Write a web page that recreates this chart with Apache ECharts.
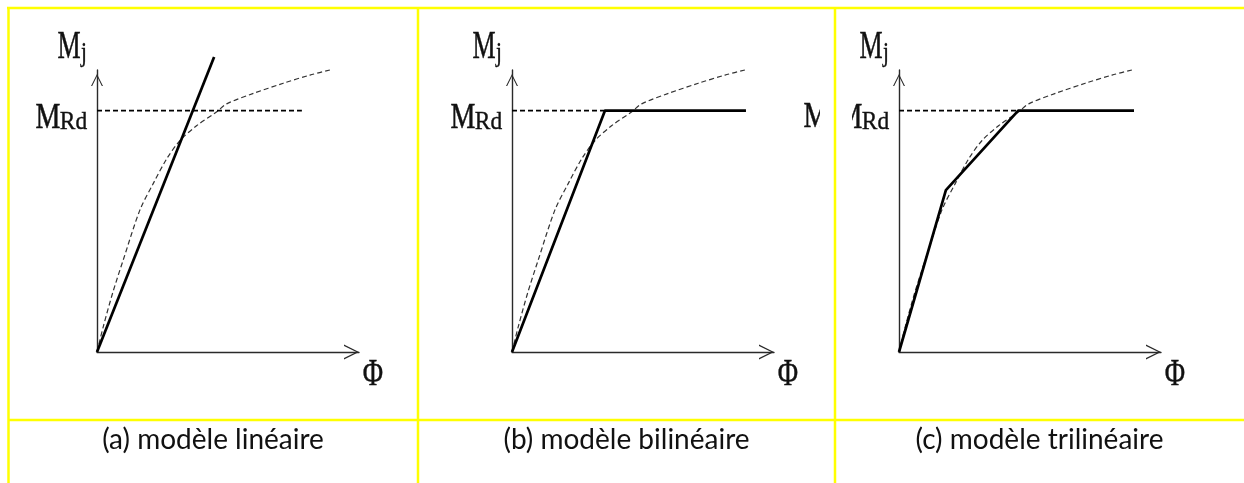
<!DOCTYPE html>
<html>
<head>
<meta charset="utf-8">
<script src="https://cdn.jsdelivr.net/npm/echarts@6/dist/echarts.min.js"></script>
<style>
  html, body { margin: 0; padding: 0; background: #fff; }
  #chart { width: 1244px; height: 483px; }
</style>
</head>
<body>
<div id="chart"></div>
<script>
// real joint curve (dashed), same in all three panels; Phi and M in % of axis length
const curvePhi = [0, 2.4, 6.0, 10.0, 16.4, 21.5, 26.6, 31.7, 38.1, 45.7, 49.5, 59.7, 71.1, 81.3, 89.8];
const curveM = [0, 9.0, 21.0, 32.6, 50.4, 59.8, 68.5, 75.0, 80.3, 85.2, 88.0, 91.7, 95.3, 98.2, 100.2];

const mRd = 85.6;

// idealised models
const linPhi = [0, 44.7];
const linM = [0, 104.6];
const biPhi = [0, 35.5, 89.3];
const biM = [0, mRd, mRd];
const triPhi = [0, 17.9, 45.5, 89.7];
const triM = [0, 57.4, mRd, mRd];

// where the dashed MRd level stops in each panel
const mRdEnd = [78.2, 35.5, 45.5];

const captions = ['(a) modèle linéaire', '(b) modèle bilinéaire', '(c) modèle trilinéaire'];

const zip = (xs, ys) => xs.map((x, i) => [x, ys[i]]);
const models = [zip(linPhi, linM), zip(biPhi, biM), zip(triPhi, triM)];

const gridLeft = [97, 512, 899];
const gridTop = 70, gridW = 262, gridH = 282;
const cellMid = [213, 626.5, 1039.5];

const chevron = 'path://M50,0 L100,100 L90,100 L50,18 L10,100 L0,100 Z';
const axisColor = '#2a2a2a';
const serif = '"Liberation Serif", "DejaVu Serif", serif';
const ink = '#111';

const chart = echarts.init(document.getElementById('chart'));

const grids = [], xAxes = [], yAxes = [], series = [], graphics = [];

function txt(x, y, text, size, sx, family, bold) {
  return {
    type: 'text', x: x, y: y, scaleX: sx, z: 10,
    style: {
      text: text, font: 'normal ' + size + 'px ' + (family || serif), fill: ink,
      stroke: bold ? ink : null, lineWidth: bold || 0,
      align: 'center', verticalAlign: 'middle',
      textAlign: 'center', textVerticalAlign: 'middle'
    }
  };
}

gridLeft.forEach((L, i) => {
  grids.push({ left: L, top: gridTop, width: gridW, height: gridH });
  xAxes.push({
    gridIndex: i, type: 'value', min: 0, max: 100,
    axisLine: {
      show: true, onZero: false,
      symbol: ['none', chevron], symbolSize: [16, 15], symbolOffset: [0, -7.5],
      lineStyle: { color: axisColor, width: 1.4 }
    },
    axisTick: { show: false }, axisLabel: { show: false }, splitLine: { show: false }
  });
  yAxes.push({
    gridIndex: i, type: 'value', min: 0, max: 100,
    axisLine: {
      show: true, onZero: false,
      symbol: ['none', chevron], symbolSize: [12, 20], symbolOffset: [0, -10],
      lineStyle: { color: axisColor, width: 1.4 }
    },
    axisTick: { show: false }, axisLabel: { show: false }, splitLine: { show: false }
  });

  series.push({
    type: 'line', xAxisIndex: i, yAxisIndex: i, data: zip(curvePhi, curveM),
    symbol: 'none', smooth: 0.3, clip: false, z: 2,
    lineStyle: { color: '#333', width: 1.2, type: [5, 3] }
  });
  series.push({
    type: 'line', xAxisIndex: i, yAxisIndex: i, data: [[0, mRd], [mRdEnd[i], mRd]],
    symbol: 'none', z: 2,
    lineStyle: { color: '#000', width: 1.6, type: [5, 3] }
  });
  series.push({
    type: 'line', xAxisIndex: i, yAxisIndex: i, data: models[i],
    symbol: 'none', clip: false, z: 3,
    lineStyle: { color: '#000', width: 2.7 }
  });

  const R = L + gridW;
  graphics.push(txt(L - 28, 47.8, 'M', 40, 0.65, null, 0.5));
  graphics.push(txt(L - 13, 53.5, 'j', 28, 0.75, null, 0.4));
  graphics.push(txt(L - 49, 119.3, 'M', 35, 0.8, null, 0.5));
  graphics.push(txt(L - 23.5, 122, 'Rd', 26, 0.9, null, 0.4));
  graphics.push(txt(R + 14, 375.5, 'Φ', 38, 0.73, null, 0.5));
  graphics.push(txt(cellMid[i], 440, captions[i], 28, 1, 'Lato, "Open Sans", sans-serif'));
});

// stray clipped "M" left of the third panel, and the white patch that eats its label
graphics.push(txt(816, 118, 'M', 35, 0.8, null, 0.5));
graphics.push({ type: 'rect', shape: { x: 820, y: 96, width: 32, height: 40 }, style: { fill: '#fff' }, z: 20 });

// yellow table rules
const yellow = { stroke: '#ffff00', lineWidth: 2.5 };
[
  [7, 8, 1244, 8],
  [8.5, 7, 8.5, 483],
  [418, 7, 418, 483],
  [835, 7, 835, 483],
  [8, 420, 1244, 420]
].forEach(s => {
  graphics.push({ type: 'line', shape: { x1: s[0], y1: s[1], x2: s[2], y2: s[3] }, style: yellow, z: 30 });
});

chart.setOption({
  animation: false,
  backgroundColor: '#fff',
  grid: grids,
  xAxis: xAxes,
  yAxis: yAxes,
  series: series,
  graphic: graphics
});
</script>
</body>
</html>
